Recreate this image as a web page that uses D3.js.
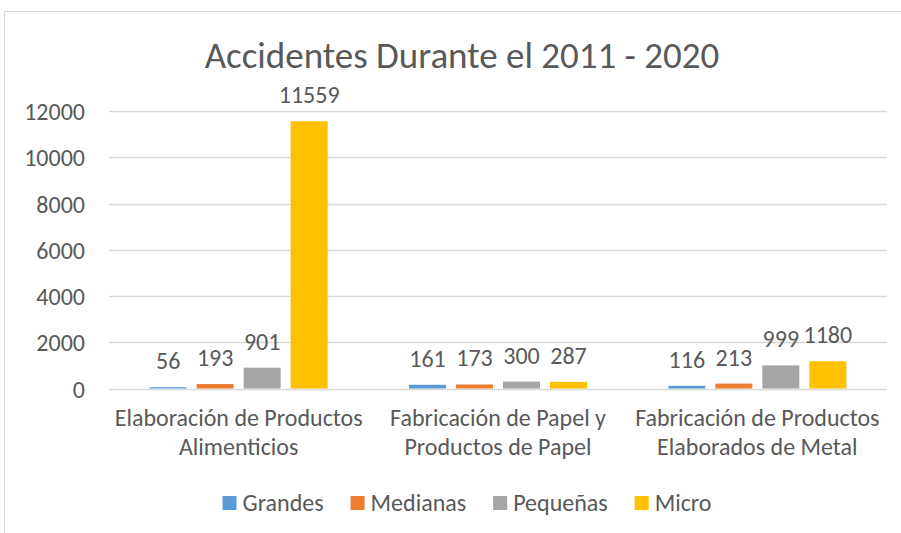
<!DOCTYPE html>
<html>
<head>
<meta charset="utf-8">
<script src="https://cdn.jsdelivr.net/npm/d3@7"></script>
<style>
  body { margin: 0; background: #fff; }
  svg { display: block; }
  text { font-family: Carlito, Calibri, Lato, sans-serif; fill: #595959; }
</style>
</head>
<body>
<svg id="contenedor" width="901" height="533"></svg>
<script>
// datos del grafico
let titulo = "Accidentes Durante el 2011 - 2020";
let categorias = [
  ["Elaboración de Productos", "Alimenticios"],
  ["Fabricación de Papel y", "Productos de Papel"],
  ["Fabricación de Productos", "Elaborados de Metal"]
];
let series = ["Grandes", "Medianas", "Pequeñas", "Micro"];
let colores = ["#5B9BD5", "#ED7D31", "#A5A5A5", "#FFC000"];
let grandes = [56, 161, 116];
let medianas = [193, 173, 213];
let pequenas = [901, 300, 999];
let micro = [11559, 287, 1180];
let ticksY = [0, 2000, 4000, 6000, 8000, 10000, 12000];

let valores = [grandes, medianas, pequenas, micro];

// configuracion del area de dibujo
let svg = d3.select("#contenedor");
let margin = { top: 111, bottom: 144.5, left: 109, right: 14 };
let width = 901, height = 533;
let tamFuente = 24;

// borde del area del grafico
svg.append("rect")
  .attr("x", 4.5).attr("y", 11.5)
  .attr("width", 1000).attr("height", 1000)
  .attr("fill", "none").attr("stroke", "#D9D9D9");

// escalas
let x0 = d3.scaleBand()
  .domain(categorias.map((d, i) => i))
  .range([margin.left, width - margin.right])
  .padding(0);

let x1 = d3.scaleBand()
  .domain(series)
  .range([0, x0.bandwidth()])
  .paddingInner(0.213)
  .paddingOuter(0.865);

let y = d3.scaleLinear()
  .domain([0, 12000])
  .range([height - margin.bottom, margin.top]);

// lineas de cuadricula
svg.append("g")
  .selectAll("line")
  .data(ticksY)
  .enter()
  .append("line")
  .attr("x1", margin.left)
  .attr("x2", width - margin.right)
  .attr("y1", d => Math.round(y(d)) + 0.5)
  .attr("y2", d => Math.round(y(d)) + 0.5)
  .attr("stroke", "#D9D9D9")
  .attr("stroke-width", 1.3);

// eje Y
let axisY = d3.axisLeft(y).tickValues(ticksY).tickFormat(d3.format("d")).tickSize(0).tickPadding(0);
let gy = svg.append("g")
  .attr("transform", `translate(${margin.left - 24}, 0)`)
  .call(axisY);
gy.select(".domain").remove();
gy.selectAll("text")
  .attr("font-size", tamFuente)
  .style("font-family", "Carlito, Calibri, Lato, sans-serif")
  .attr("fill", "#595959")
  .attr("dy", "0.36em");

// barras
let datosBarras = [];
series.forEach((s, j) => {
  valores[j].forEach((v, i) => {
    datosBarras.push({ cat: i, serie: s, valor: v, color: colores[j] });
  });
});

svg.append("g")
  .selectAll("rect")
  .data(datosBarras)
  .enter()
  .append("rect")
  .attr("x", d => x0(d.cat) + x1(d.serie))
  .attr("width", x1.bandwidth())
  .attr("y", d => y(d.valor))
  .attr("height", d => y(0) - y(d.valor))
  .attr("fill", d => d.color);

// etiquetas de valores
svg.append("g")
  .selectAll("text")
  .data(datosBarras)
  .enter()
  .append("text")
  .attr("x", d => x0(d.cat) + x1(d.serie) + x1.bandwidth() / 2)
  .attr("y", d => y(d.valor) - 18)
  .attr("text-anchor", "middle")
  .attr("font-size", tamFuente)
  .text(d => d.valor);

// etiquetas de categorias
let cats = svg.append("g")
  .selectAll("text")
  .data(categorias)
  .enter()
  .append("text")
  .attr("x", (d, i) => x0(i) + x0.bandwidth() / 2)
  .attr("y", 426)
  .attr("text-anchor", "middle")
  .attr("font-size", tamFuente);
cats.selectAll("tspan")
  .data(d => d)
  .enter()
  .append("tspan")
  .attr("x", function () { return d3.select(this.parentNode).attr("x"); })
  .attr("dy", (d, i) => i === 0 ? 0 : 29)
  .text(d => d);

// titulo
svg.append("text")
  .attr("x", 462)
  .attr("y", 68)
  .attr("text-anchor", "middle")
  .attr("font-size", 37)
  .text(titulo);

// leyenda
let leyenda = svg.append("g");
let posX = 0;
series.forEach((s, j) => {
  let item = leyenda.append("g").attr("transform", `translate(${posX},0)`);
  item.append("rect")
    .attr("x", 0).attr("y", 496)
    .attr("width", 14).attr("height", 14)
    .attr("fill", colores[j]);
  let t = item.append("text")
    .attr("x", 20).attr("y", 511)
    .attr("font-size", tamFuente)
    .text(s);
  posX += 20 + t.node().getComputedTextLength() + 27;
});
let anchoLeyenda = posX - 27;
leyenda.attr("transform", `translate(${467 - anchoLeyenda / 2},0)`);
</script>
</body>
</html>
